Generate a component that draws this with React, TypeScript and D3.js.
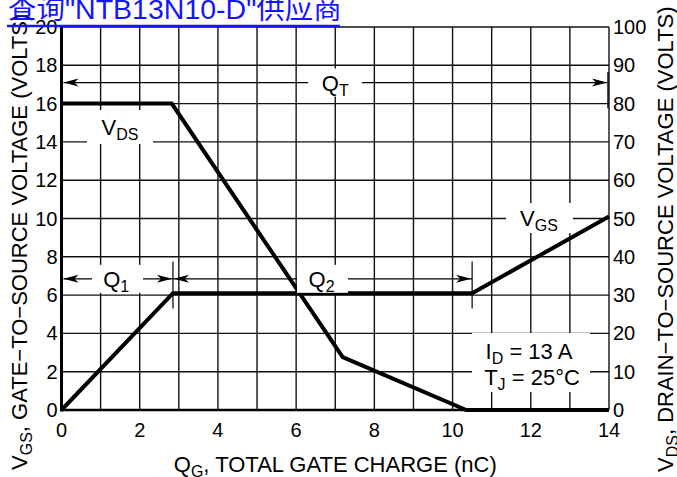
import React from "react";
import * as d3 from "d3";

const W = 677;
const H = 477;

const xTicks = [0, 2, 4, 6, 8, 10, 12, 14];
const xGrid = d3.range(0, 15, 1);
const leftTicks = [0, 2, 4, 6, 8, 10, 12, 14, 16, 18, 20];
const rightTicks = [0, 10, 20, 30, 40, 50, 60, 70, 80, 90, 100];

// VGS (left axis, volts) vs gate charge (nC)
const vgsQ = [0, 2.85, 10.5, 14];
const vgsV = [0, 6.1, 6.1, 10.1];
// VDS (right axis, volts) vs gate charge (nC)
const vdsQ = [0, 2.82, 7.19, 10.35, 14];
const vdsV = [80, 80, 13.8, 0, 0];

// annotation markers (data units)
const q1End = 2.85;
const q2End = 10.5;
const qtEnd = 14;
const qArrowV = 6.85;
const qtArrowV = 17.1;

const FONT = "'Liberation Sans', Arial, Helvetica, sans-serif";

function ArrowHead({ x, y, dir }: { x: number; y: number; dir: number }) {
  const L = 15;
  const h = 4;
  const p = `M${x},${y} L${x - dir * L},${y - h} L${x - dir * (L - 4)},${y} L${x - dir * L},${y + h} Z`;
  return <path d={p} fill="#000" />;
}

export default function App() {
  const x = d3.scaleLinear().domain([0, 14]).range([61.5, 609]);
  const yL = d3.scaleLinear().domain([0, 20]).range([410, 27]);
  const yR = d3.scaleLinear().domain([0, 100]).range([410, 27]);

  const lineL = d3
    .line<number>()
    .x((_, i) => x(vgsQ[i]))
    .y((_, i) => yL(vgsV[i]));
  const lineR = d3
    .line<number>()
    .x((_, i) => x(vdsQ[i]))
    .y((_, i) => yR(vdsV[i]));

  const yQ = yL(qArrowV);
  const yQT = yL(qtArrowV);

  return (
    <svg
      width={W}
      height={H}
      style={{ position: "absolute", left: 0, top: 0, background: "#fff" }}
      fontFamily={FONT}
    >
      <rect x={0} y={0} width={W} height={H} fill="#fff" />
      {/* grid */}
      {xGrid.map((q) => (
        <line key={"gx" + q} x1={x(q)} x2={x(q)} y1={yL(20)} y2={yL(0)} stroke="#111" strokeWidth={1.4} />
      ))}
      {leftTicks.map((v) => (
        <line key={"gy" + v} x1={x(0)} x2={x(14)} y1={yL(v)} y2={yL(v)} stroke="#111" strokeWidth={1.4} />
      ))}
      {/* axes */}
      <line x1={x(0)} x2={x(0)} y1={yL(20)} y2={yL(0) + 1.5} stroke="#000" strokeWidth={3} />
      <line x1={x(0)} x2={x(14)} y1={yL(0)} y2={yL(0)} stroke="#000" strokeWidth={2.5} />

      {/* white label boxes */}
      <rect x={87} y={110} width={66} height={34} fill="#fff" />
      <rect x={506} y={203} width={67} height={30} fill="#fff" />
      <rect x={472} y={333} width={118} height={59} fill="#fff" />

      {/* curves */}
      <path d={lineL(vgsQ) || ""} fill="none" stroke="#000" strokeWidth={4} strokeLinejoin="miter" />
      <path d={lineR(vdsQ) || ""} fill="none" stroke="#000" strokeWidth={4} strokeLinejoin="miter" />

      {/* Q1 / Q2 arrows */}
      <line x1={x(0) + 2} x2={x(q1End)} y1={yQ} y2={yQ} stroke="#000" strokeWidth={1.2} />
      <line x1={x(q1End)} x2={x(q2End)} y1={yQ} y2={yQ} stroke="#000" strokeWidth={1.2} />
      <rect x={92} y={yQ - 14} width={51} height={28} fill="#fff" />
      <rect x={297} y={yQ - 14} width={51} height={28} fill="#fff" />
      <ArrowHead x={x(0) + 2} y={yQ} dir={-1} />
      <ArrowHead x={x(q1End) - 1} y={yQ} dir={1} />
      <ArrowHead x={x(q1End) + 1} y={yQ} dir={-1} />
      <ArrowHead x={x(q2End) - 1} y={yQ} dir={1} />
      <line x1={x(q1End)} x2={x(q1End)} y1={yL(7.75)} y2={yL(5.3)} stroke="#000" strokeWidth={1.2} />
      <line x1={x(q2End)} x2={x(q2End)} y1={yL(7.75)} y2={yL(5.3)} stroke="#000" strokeWidth={1.2} />

      {/* QT arrow */}
      <line x1={x(0) + 2} x2={x(qtEnd) - 2} y1={yQT} y2={yQT} stroke="#000" strokeWidth={1.2} />
      <rect x={308} y={yQT - 14} width={54} height={28} fill="#fff" />
      <ArrowHead x={x(0) + 2} y={yQT} dir={-1} />
      <ArrowHead x={x(qtEnd) - 2} y={yQT} dir={1} />
      <line x1={x(qtEnd) - 1} x2={x(qtEnd) - 1} y1={yL(17.65)} y2={yL(15.75)} stroke="#000" strokeWidth={1.4} />

      {/* annotation texts */}
      <g fontSize={22} fill="#000">
        <text x={x(1.4)} y={yQ + 8} textAnchor="middle">
          Q<tspan fontSize={16} dy={5}>1</tspan>
        </text>
        <text x={x(6.65)} y={yQ + 8} textAnchor="middle">
          Q<tspan fontSize={16} dy={5}>2</tspan>
        </text>
        <text x={x(7.0)} y={yQT + 8} textAnchor="middle">
          Q<tspan fontSize={16} dy={5}>T</tspan>
        </text>
        <text x={120} y={135} textAnchor="middle">
          V<tspan fontSize={16} dy={5}>DS</tspan>
        </text>
        <text x={539} y={226} textAnchor="middle">
          V<tspan fontSize={16} dy={5}>GS</tspan>
        </text>
        <text x={529} y={359} textAnchor="middle">
          I<tspan fontSize={16} dy={5}>D</tspan>
          <tspan dy={-5}> = 13 A</tspan>
        </text>
        <text x={532} y={385} textAnchor="middle">
          T<tspan fontSize={16} dy={5}>J</tspan>
          <tspan dy={-5}> = 25°C</tspan>
        </text>
      </g>

      {/* tick labels */}
      <g fontSize={20} fill="#000">
        {leftTicks.map((v) => (
          <text key={"lt" + v} x={x(0) - 4} y={yL(v) + 7} textAnchor="end">
            {v}
          </text>
        ))}
        {rightTicks.map((v) => (
          <text key={"rt" + v} x={x(14) + 4} y={yR(v) + 7} textAnchor="start">
            {v}
          </text>
        ))}
        {xTicks.map((q) => (
          <text key={"xt" + q} x={x(q)} y={437} textAnchor="middle">
            {q}
          </text>
        ))}
      </g>

      {/* axis titles */}
      <g fontSize={22} fill="#000">
        <text x={x(7)} y={472} textAnchor="middle">
          Q<tspan fontSize={16} dy={5}>G</tspan>
          <tspan dy={-5}>, TOTAL GATE CHARGE (nC)</tspan>
        </text>
        <text transform="translate(27,470) rotate(-90)" textAnchor="start">
          V<tspan fontSize={16} dy={5}>GS</tspan>
          <tspan dy={-5}>, GATE−TO−SOURCE VOLTAGE (VOLTS)</tspan>
        </text>
        <text transform="translate(673,472) rotate(-90)" textAnchor="start">
          V<tspan fontSize={16} dy={5}>DS</tspan>
          <tspan dy={-5}>, DRAIN−TO−SOURCE VOLTAGE (VOLTS)</tspan>
        </text>
      </g>

      {/* blue link title */}
      <text x={8} y={19} fontSize={28.5} fill="#1414ff" fontFamily={"'Liberation Sans', Arial, 'Noto Sans CJK SC', sans-serif"}>
        查询"NTB13N10-D"供应商
      </text>
      <line x1={7} x2={340} y1={26} y2={26} stroke="#1414ff" strokeWidth={2.5} />
    </svg>
  );
}
